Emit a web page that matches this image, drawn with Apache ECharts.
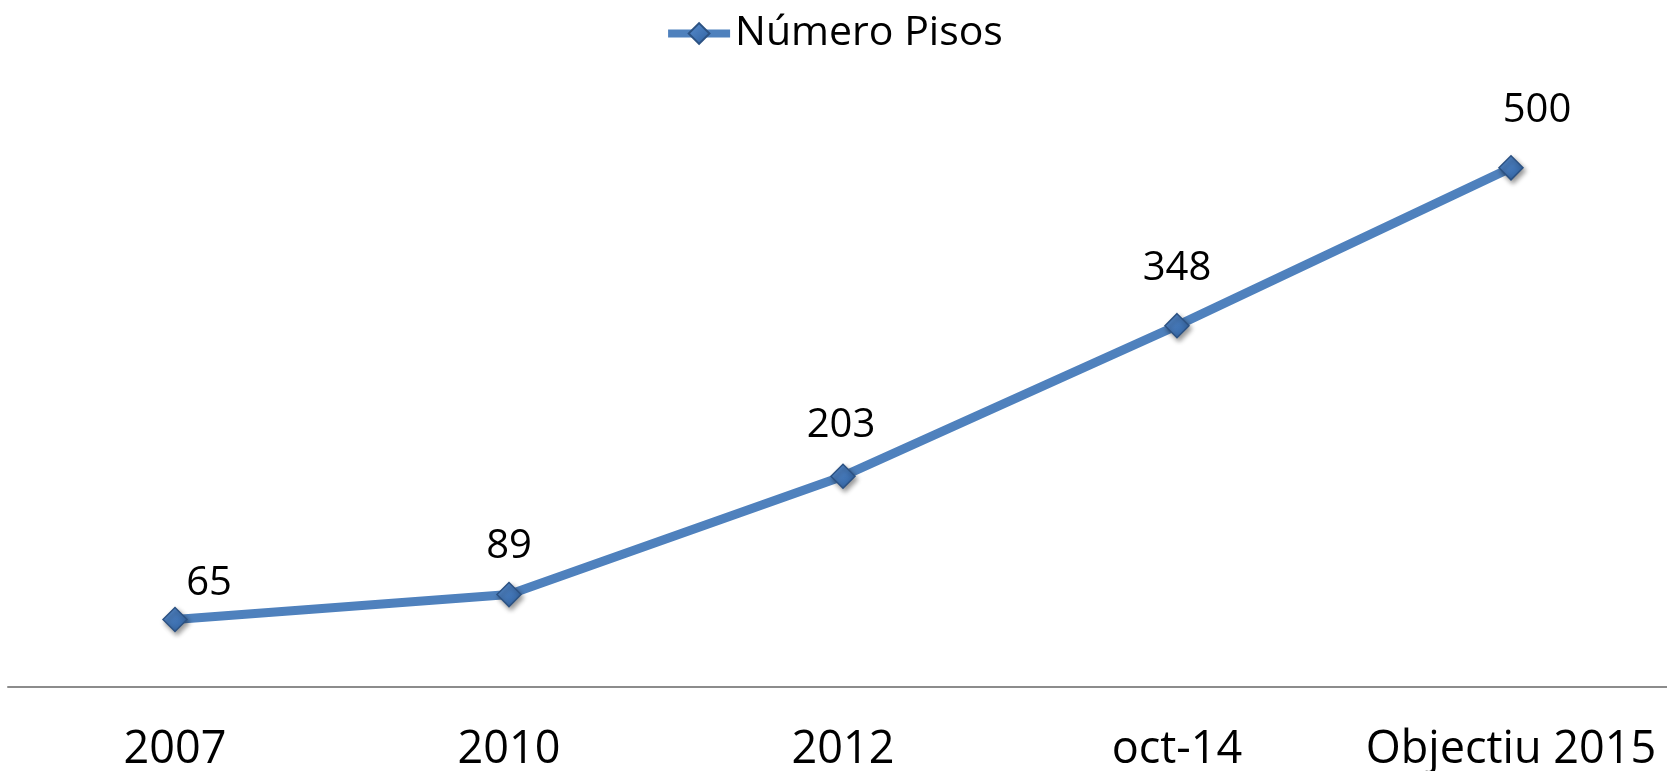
<!DOCTYPE html>
<html>
<head>
<meta charset="utf-8">
<script src="https://cdn.jsdelivr.net/npm/echarts@6/dist/echarts.min.js"></script>
<style>
html,body{margin:0;padding:0;background:#fff;}
#chart{width:1667px;height:771px;}
</style>
</head>
<body>
<div id="chart"></div>
<script>
const categories = ['2007', '2010', '2012', 'oct-14', 'Objectiu 2015'];
const seriesName = 'Número Pisos';
const values = [65, 89, 203, 348, 500];
const labelOffsets = [[34, -36], [0, -48], [-2, -51], [0, -57], [26, -57]];

const FONT = '"Open Sans", sans-serif';
const chart = echarts.init(document.getElementById('chart'));
chart.setOption({
  backgroundColor: '#ffffff',
  animation: false,
  legend: {
    top: 8,
    left: 'center',
    itemWidth: 62,
    itemHeight: 26,
    itemGap: 10,
    lineStyle: { width: 8 },
    textStyle: { fontFamily: FONT, fontSize: 41, color: '#000' },
    data: [seriesName]
  },
  grid: { left: 8, width: 1670, top: 64, bottom: 84, containLabel: false, outerBoundsMode: 'none' },
  xAxis: {
    type: 'category',
    data: categories,
    boundaryGap: true,
    axisLine: { lineStyle: { color: '#8c8c8c', width: 2 } },
    axisTick: { show: false },
    axisLabel: { fontFamily: FONT, fontSize: 45, color: '#000', margin: 41, interval: 0 }
  },
  yAxis: {
    type: 'value', min: 0, max: 600,
    show: false,
    splitLine: { show: false }
  },
  series: [{
    name: seriesName,
    type: 'line',
    data: values.map((v, i) => ({
      value: v,
      label: { offset: labelOffsets[i] }
    })),
    symbol: 'diamond',
    symbolSize: 24,
    lineStyle: { color: '#4f81bd', width: 9 },
    itemStyle: {
      color: {
        type: 'linear', x: 0, y: 0, x2: 1, y2: 1,
        colorStops: [{ offset: 0, color: '#5b8fd0' }, { offset: 1, color: '#2d5f9e' }]
      },
      borderColor: '#2c5283',
      borderWidth: 1.5,
      shadowBlur: 5, shadowOffsetX: 2, shadowOffsetY: 3, shadowColor: 'rgba(0,0,0,0.4)'
    },
    label: {
      show: true,
      position: 'inside',
      fontFamily: FONT, fontSize: 40, color: '#000'
    },
    z: 3
  }]
});
</script>
</body>
</html>
